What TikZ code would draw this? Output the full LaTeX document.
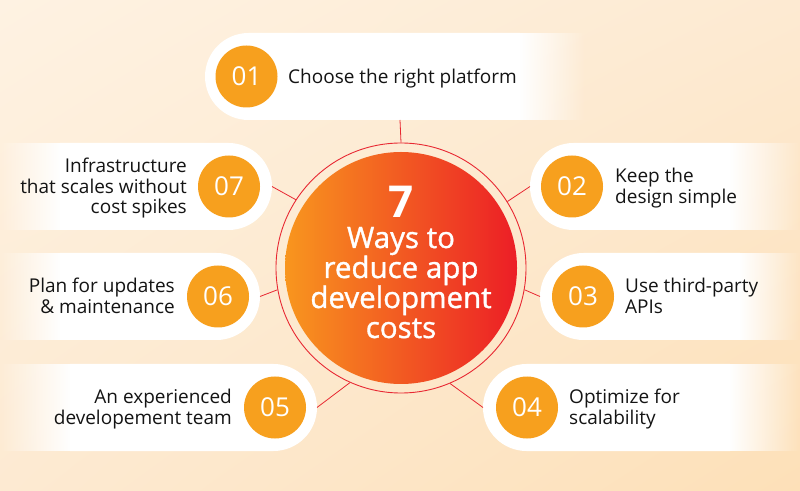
\documentclass[tikz,border=0pt]{standalone}
\usepackage{fontspec}
\setmainfont{Open Sans}
\newfontfamily\semi[FakeBold=1.2]{Open Sans}
\usetikzlibrary{fadings,shadings}
\definecolor{bgA}{RGB}{254,242,226}
\definecolor{bgM}{RGB}{253,234,210}
\definecolor{bgB}{RGB}{253,224,184}
\definecolor{numor}{RGB}{247,160,30}
\definecolor{ringred}{RGB}{232,40,50}
\definecolor{coreL}{RGB}{248,150,30}
\definecolor{coreR}{RGB}{236,30,38}
\definecolor{txt}{RGB}{20,20,20}
\tikzfading[name=fadeR, left color=transparent!0, right color=transparent!100]
\tikzfading[name=fadeL, left color=transparent!100, right color=transparent!0]
\newcommand\pillR[4]{%
  \fill[white] ({#1+43.5},{#2-43.5}) -- (#3,{#2-43.5}) -- (#3,{#2+43.5}) -- ({#1+43.5},{#2+43.5}) arc[start angle=90,end angle=270,radius=43.5] -- cycle;
  \fill[white, path fading=fadeR] ({#3-0.5},{#2-43.5}) rectangle (#4,{#2+43.5});}
\newcommand\pillL[4]{%
  \fill[white] ({#1-43.5},{#2+43.5}) -- (#3,{#2+43.5}) -- (#3,{#2-43.5}) -- ({#1-43.5},{#2-43.5}) arc[start angle=-90,end angle=90,radius=43.5] -- cycle;
  \fill[white, path fading=fadeL] (#4,{#2-43.5}) rectangle ({#3+0.5},{#2+43.5});}
\begin{document}
\begin{tikzpicture}[x=1pt,y=1pt,
  numc/.style={circle, fill=numor, minimum size=62pt, inner sep=0pt, text=white, font=\fontsize{26}{26}\selectfont},
  lblW/.style={anchor=base west, inner sep=0pt, text=txt, font=\fontsize{19}{20}\selectfont},
  lblE/.style={anchor=base east, inner sep=0pt, text=txt, font=\fontsize{19}{20}\selectfont},
  ctext/.style={anchor=base, inner sep=0pt, text=white, font=\fontsize{29.5}{30}\semi},
  link/.style={draw=ringred, line width=0.8pt}]
\useasboundingbox (0,0) rectangle (800,490);
\shade[upper left=bgA, upper right=bgM, lower left=bgM, lower right=bgB] (0,0) rectangle (800,490);

% pills
\pillR{205}{413.5}{520}{585}
\pillR{530}{303.5}{730}{800}
\pillR{540}{193.5}{740}{800}
\pillR{483}{82.5}{730}{800}
\pillL{317}{82.5}{70}{0}
\pillL{260}{193.5}{60}{0}
\pillL{272}{303.5}{60}{0}

\coordinate (e1) at (400,370);
\coordinate (e2) at (530,303.5);
\coordinate (e3) at (540,193.5);
\coordinate (e4) at (483,82.5);
\coordinate (e5) at (317,82.5);
\coordinate (e6) at (260,193.5);
\coordinate (e7) at (272,303.5);

% center
\node[circle, draw=ringred, line width=0.9pt, minimum size=250pt, inner sep=0pt] (ring) at (401,222) {};
\node[circle, minimum size=232pt, inner sep=0pt, left color=coreL, right color=coreR] (core) at (401,222) {};

\draw[link] (e1) -- (ring.90);
\draw[link] (e2) -- (ring.32.7);
\draw[link] (e3) -- (ring.350);
\draw[link] (e4) -- (ring.293);
\draw[link] (e5) -- (ring.246);
\draw[link] (e6) -- (ring.190);
\draw[link] (e7) -- (ring.147.8);

\node[anchor=base, inner sep=0pt, text=white, font=\fontsize{44}{44}\bfseries] (seven) at (401,272) {7};
\node[ctext] (c1) at (401,242) {Ways to};
\node[ctext] (c2) at (401,212) {reduce app};
\node[ctext] (c3) at (401,182) {development};
\node[ctext] (c4) at (401,152) {costs};

% numbers
\node[numc] (n1) at (246.5,413.5) {01};
\node[numc] (n2) at (572,303.5) {02};
\node[numc] (n3) at (583,193.5) {03};
\node[numc] (n4) at (527,82.5) {04};
\node[numc] (n5) at (275,82.5) {05};
\node[numc] (n6) at (218,193.5) {06};
\node[numc] (n7) at (229,303.5) {07};

% labels
\node[lblW] (l1) at (288,406.7) {Choose the right platform};
\node[lblW] (l2a) at (615,307) {Keep the};
\node[lblW] (l2b) at (615,286.5) {design simple};
\node[lblW] (l3a) at (625,197) {Use third-party};
\node[lblW] (l3b) at (625,176.5) {APIs};
\node[lblW] (l4a) at (569,86) {Optimize for};
\node[lblW] (l4b) at (569,65.5) {scalability};
\node[lblE] (l5a) at (232,86) {An experienced};
\node[lblE] (l5b) at (232,65.5) {developement team};
\node[lblE] (l6a) at (175,197) {Plan for updates};
\node[lblE] (l6b) at (175,176.5) {\& maintenance};
\node[lblE] (l7a) at (187,317.2) {Infrastructure};
\node[lblE] (l7b) at (187,296.7) {that scales without};
\node[lblE] (l7c) at (187,276.2) {cost spikes};
\end{tikzpicture}
\end{document}
